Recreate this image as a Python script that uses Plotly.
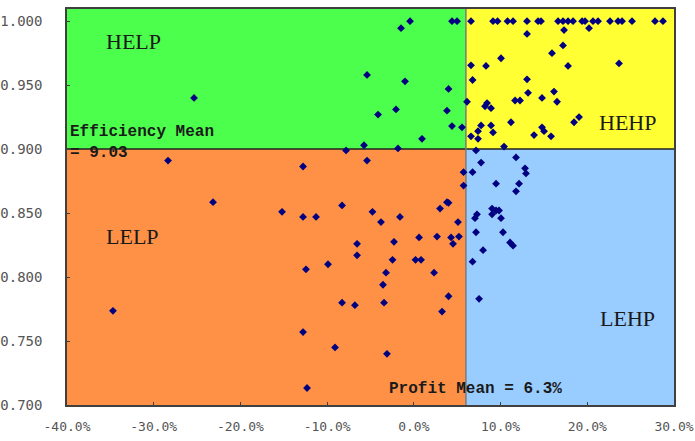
import plotly.graph_objects as go

# Profit (%) and Efficiency values
help_x = [-25.35, -5.4, -1.02, -1.48, -0.44, 4.4, 4.98, 4.0, -4.13, -2.06, 3.82, 4.4, 5.55, 0.94, -5.75, -1.83]
help_y = [0.940, 0.958, 0.953, 0.9945, 1.000, 1.000, 1.000, 0.947, 0.927, 0.931, 0.930, 0.918, 0.917, 0.908, 0.903, 0.9005]

hehp_top_x = [6.59, 9.13, 9.65, 10.8, 11.44, 13.05, 14.32, 14.66, 16.63, 17.2, 17.78, 18.36,
              19.4, 19.74, 20.66, 21.24, 22.62, 23.55, 24.01, 25.16, 27.81, 28.73]
hehp_x = [13.05, 17.32, 20.2, 17.2, 15.93, 10.05, 6.59, 8.32, 17.78, 23.66, 6.77, 13.05, 13.17, 16.16,
          14.78, 11.67, 12.24, 16.51, 6.13, 8.44, 8.21, 8.9, 11.2, 18.47, 19.05, 7.75, 8.9, 7.4, 9.13,
          14.78, 15.01, 13.86, 15.82, 6.59, 7.4, 10.4]
hehp_y = [0.990, 0.993, 0.9945, 0.981, 0.975, 0.971, 0.9655, 0.965, 0.965, 0.967, 0.954, 0.9545, 0.944, 0.945,
          0.940, 0.938, 0.938, 0.937, 0.937, 0.936, 0.9335, 0.932, 0.921, 0.921, 0.925, 0.9185, 0.9185, 0.914, 0.913,
          0.917, 0.914, 0.911, 0.910, 0.910, 0.908, 0.902]

lehp_x = [7.17, 11.78, 7.75, 6.77, 12.82, 12.93, 9.48, 12.13, 11.78, 9.02, 9.48, 9.82, 9.02, 7.28, 7.05,
          10.05, 7.17, 10.28, 11.09, 11.44, 7.98, 6.77, 7.52]
lehp_y = [0.899, 0.8935, 0.8895, 0.882, 0.885, 0.881, 0.873, 0.873, 0.867, 0.8535, 0.852, 0.852, 0.849, 0.849, 0.846,
          0.846, 0.835, 0.835, 0.827, 0.8245, 0.821, 0.812, 0.783]

lelp_x = [-28.35, -23.16, -34.7, -15.2, -12.78, -11.28, -12.78, -12.44, -9.9, -8.28, -12.78, -9.09, -12.32,
          -7.82, -5.4, -8.28, -4.77, -3.79, -1.6, -6.55, -6.55, -2.29, -2.46, -3.21, -3.56, -6.8, -3.44, -3.1,
          3.02, 3.82, 4.0, 5.09, 5.73, 5.73, 0.6, 2.67, 4.29, 5.2, 4.52, 0.19, 0.83, 2.33, 4.0, 3.25]
lelp_y = [0.891, 0.8585, 0.7736, 0.851, 0.847, 0.847, 0.8864, 0.806, 0.810, 0.780, 0.757, 0.745, 0.7133,
          0.899, 0.891, 0.856, 0.851, 0.843, 0.847, 0.826, 0.817, 0.8275, 0.8135, 0.8034, 0.794, 0.778, 0.780, 0.740,
          0.8535, 0.8585, 0.858, 0.843, 0.882, 0.8715, 0.831, 0.8316, 0.831, 0.8316, 0.826, 0.8135, 0.8135, 0.8034,
          0.785, 0.773]

profit = help_x + hehp_top_x + hehp_x + lehp_x + lelp_x
efficiency = help_y + [1.0] * len(hehp_top_x) + hehp_y + lehp_y + lelp_y

profit_mean = 6.0
efficiency_mean = 0.9

x_tick_vals = [-40, -30, -20, -10, 0, 10, 20, 30]
x_tick_text = ["-40.0%", "-30.0%", "-20.0%", "-10.0%", "0.0%", "10.0%", "20.0%", "30.0%"]
y_tick_vals = [0.70, 0.75, 0.80, 0.85, 0.90, 0.95, 1.00]
y_tick_text = ["0.700", "0.750", "0.800", "0.850", "0.900", "0.950", "1.000"]

x_min, x_max = -40, 30
y_min, y_max = 0.7, 1.0095

fig = go.Figure()

quadrants = [
    (x_min, profit_mean, efficiency_mean, y_max, "#4CFF4C"),
    (profit_mean, x_max, efficiency_mean, y_max, "#FFFF33"),
    (x_min, profit_mean, y_min, efficiency_mean, "#FF9147"),
    (profit_mean, x_max, y_min, efficiency_mean, "#99CCFF"),
]
for x0, x1, y0, y1, c in quadrants:
    fig.add_shape(type="rect", x0=x0, x1=x1, y0=y0, y1=y1, fillcolor=c,
                  line=dict(width=0), layer="below")

fig.add_shape(type="line", x0=x_min, x1=x_max, y0=efficiency_mean, y1=efficiency_mean,
              line=dict(color="#202020", width=1.5), layer="below")
fig.add_shape(type="line", x0=profit_mean, x1=profit_mean, y0=y_min, y1=y_max,
              line=dict(color="#7a7a7a", width=1.5), layer="below")

fig.add_trace(go.Scatter(
    x=profit, y=efficiency, mode="markers",
    marker=dict(symbol="diamond", size=6, color="#000080", line=dict(width=0)),
    showlegend=False, hoverinfo="skip"))

serif = "Liberation Serif"
for txt, x, y in [("HELP", -32.3, 0.9843), ("HEHP", 24.6, 0.921),
                  ("LELP", -32.4, 0.8316), ("LEHP", 24.6, 0.768)]:
    fig.add_annotation(x=x, y=y, text=txt, showarrow=False,
                       font=dict(family=serif, size=22, color="#1a1a1a"))

mono = "Liberation Mono"
fig.add_annotation(x=x_min, y=efficiency_mean, xanchor="left", yanchor="middle", xshift=1, yshift=7,
                   text="<b>Efficiency Mean</b><br><b>= 9.03</b>", align="left", showarrow=False,
                   font=dict(family=mono, size=16, color="#1a1a1a"))
fig.add_annotation(x=profit_mean, y=0.7133, xanchor="center", yanchor="middle", xshift=10, yshift=-1,
                   text="<b>Profit Mean = 6.3%</b>", showarrow=False,
                   font=dict(family=mono, size=16, color="#1a1a1a"))

axis_common = dict(showgrid=False, zeroline=False, showline=True, linecolor="#404040",
                   linewidth=1.5, mirror=True, ticks="inside", ticklen=3, tickcolor="#404040",
                   automargin=False)

fig.update_xaxes(range=[x_min, x_max], tickvals=x_tick_vals, ticktext=x_tick_text,
                 ticklabelstandoff=9,
                 tickfont=dict(family="DejaVu Sans Mono", size=13, color="#555555"), **axis_common)
fig.update_yaxes(range=[y_min, y_max], tickvals=y_tick_vals, ticktext=y_tick_text,
                 ticklabelstandoff=20,
                 tickfont=dict(family="DejaVu Sans Mono", size=14, color="#555555"), **axis_common)

fig.update_layout(width=695, height=441, margin=dict(l=67, r=21, t=9, b=36),
                  paper_bgcolor="white", plot_bgcolor="white")

fig.write_html("out.html")
